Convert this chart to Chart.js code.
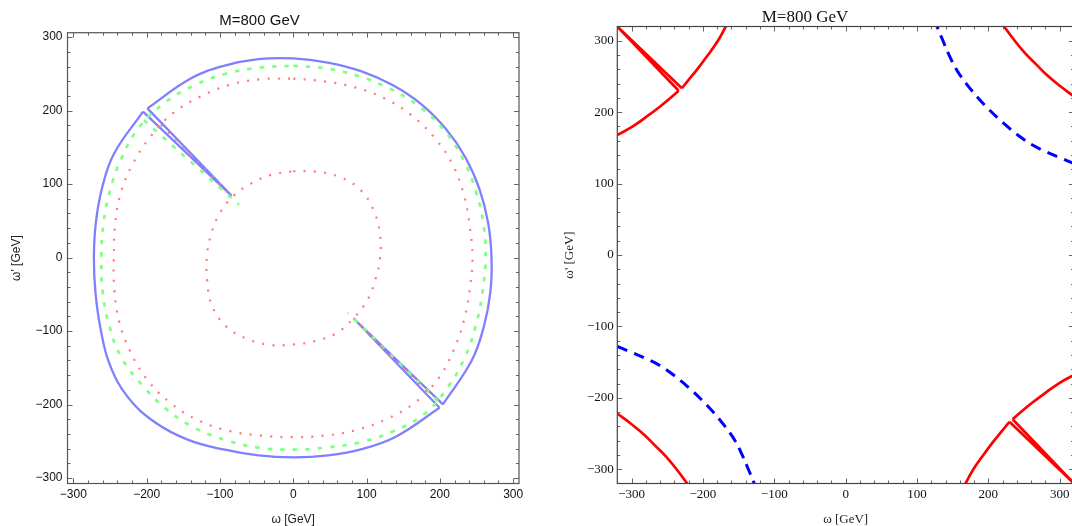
<!DOCTYPE html>
<html>
<head>
<meta charset="utf-8">
<script src="https://cdn.jsdelivr.net/npm/chart.js@4/dist/chart.umd.min.js"></script>
<style>
  html, body { margin: 0; padding: 0; background: #fff; overflow: hidden; }
  #left { position: absolute; left: 0; top: 0; }
  #right { position: absolute; left: 536px; top: 0; }
</style>
</head>
<body>
<canvas id="left" width="536" height="526"></canvas>
<canvas id="right" width="545" height="526"></canvas>
<script>
// ---- left panel: contours (omega, omega') ----
const blueArcUpper = [[-199,203],[-140.5,243.3],[-94.9,260.8],[-47.7,269.9],[0,271],[46.9,265.4],[92.3,253.7],[135.5,234.7],[174.9,208.4],[208.4,174.8],[235.1,135.8],[254.3,92.5],[265.9,47],[270.5,0],[268.9,-47.5],[259.9,-94.6],[243.3,-140.5],[204.2,-199.9]];
const blueArcLower = [[199.6,-204.4],[140.5,-243.4],[94.7,-260.3],[47.5,-269.3],[0,-272],[-47.5,-269.3],[-95.1,-261.2],[-143.3,-248.1],[-188.3,-224.5],[-226,-189.6],[-250.7,-144.8],[-263.1,-95.8],[-269.8,-47.6],[-272,0],[-269.3,47.5],[-260.8,94.9],[-244.6,141.3],[-205,198.5]];
const blueSlitTL = [[-205,198.5],[-84,84],[-199,203]];
const blueSlitBR = [[204.2,-199.9],[82.8,-83.3],[199.6,-204.4]];

const greenRing = [[0,261],[45.4,257.3],[89.8,246.7],[132.5,229.5],[172.3,205.3],[206.1,172.9],[231.7,133.8],[249.1,90.6],[259.5,45.8],[262.5,0],[258.5,-45.6],[249.5,-90.8],[234.3,-135.3],[210.7,-176.8],[178.7,-213],[136.5,-236.4],[91.5,-251.4],[45.6,-258.5],[0,-261.3],[-45.7,-259],[-90.6,-248.8],[-134,-232.1],[-173.1,-206.3],[-206.4,-173.2],[-234.7,-135.5],[-251.4,-91.5],[-260,-45.8],[-261.8,0],[-259,45.7],[-250,91],[-234.3,135.3],[-210.7,176.8],[-176.2,209.9],[-135.3,234.3],[-91.1,250.4],[-45.7,258.5],[0,261]];
const greenSlitTL = [[-203.6,186.8],[-74,72]];
const greenSlitBR = [[197.3,-195.2],[74.6,-75.2]];

const redOuter = [[0,243.5],[42.3,239.8],[84.3,231.6],[125,216.5],[162,193],[193.4,162.3],[217.8,125.8],[233,84.8],[240.8,42.5],[244.5,0],[240.8,-42.5],[233,-84.8],[218.7,-126.3],[197.3,-165.5],[165.8,-197.6],[127,-220],[85.5,-234.9],[42.7,-242.3],[0,-244.5],[-42.7,-242.3],[-86,-236.3],[-128.3,-222.1],[-166.7,-198.6],[-198.8,-166.8],[-222.1,-128.3],[-237.7,-86.5],[-244.2,-43.1],[-244.8,0],[-243.2,42.9],[-235.9,85.8],[-219.4,126.7],[-195.3,163.9],[-164.6,196.1],[-126.5,219.1],[-85.7,235.4],[-42.8,242.8],[0,243.5]];
const redInner = [[0,117.5],[31.3,116.9],[63.3,109.6],[91.9,91.9],[110,63.5],[118.3,31.7],[118.5,0],[112,-30],[100.9,-58.3],[82.4,-82.4],[59.3,-102.6],[30.4,-113.5],[0,-118.3],[-31.8,-118.8],[-63.8,-110.4],[-92.6,-92.6],[-111.3,-64.3],[-117.4,-31.4],[-118,0],[-112.5,30.2],[-101.3,58.5],[-82.7,82.7],[-58,100.5],[-30.2,112.5],[0,117.5]];
const redSlitTL = [[-180.7,180.7],[-82.7,82.7]];
const redSlitBR = [[182.4,-182.4],[82.4,-82.4]];

// ---- right panel ----
const redTLlow = [[-320,168],[-300,179],[-280,193],[-260,208],[-246,219.5],[-234,230]];
const redTLhigh = [[-229.5,233.5],[-219.5,246],[-208,260],[-193,280],[-179,300],[-168,320]];
const redTLslit = [[-234,230],[-320,320],[-229.5,233.5]];
const redBRhigh = [[320,-168],[300,-179],[280,-193],[260,-208],[246,-219.5],[234,-230]];
const redBRlow = [[229.5,-233.5],[219.5,-246],[208,-260],[193,-280],[179,-300],[168,-320]];
const redBRslit = [[234,-230],[320,-320],[229.5,-233.5]];
const redTR = [[222,320],[237,300],[252,282],[267,267],[282,252],[300,237],[320,222]];
const redBL = [[-320,-222],[-300,-237],[-282,-252],[-267,-267],[-252,-282],[-237,-300],[-222,-320]];
const blueBL = [[-320,-128],[-300,-136.4],[-280,-145],[-260,-155],[-240,-169],[-220,-185.6],[-202.3,-202.3],[-185.6,-220],[-169,-240],[-155,-260],[-145,-280],[-136.4,-300],[-128,-320]];
const blueTR = [[320,128],[300,136.4],[280,145],[260,155],[240,169],[220,185.6],[202.3,202.3],[185.6,220],[169,240],[155,260],[145,280],[136.4,300],[128,320]];

const majorTicks = [-300, -200, -100, 0, 100, 200, 300];

const pts = a => a.map(p => ({ x: p[0], y: p[1] }));
const fmt = v => (v < 0 ? '\u2212' + Math.abs(v) : String(v));

function line(data, color, width, dash, tension) {
  return {
    data: pts(data), showLine: true, borderColor: color, borderWidth: width,
    borderDash: dash || [], pointRadius: 0, tension: tension, fill: false,
    borderCapStyle: 'butt', borderJoinStyle: 'miter', clip: 0
  };
}

// inward ticks on all four sides, Mathematica style
const frameTicks = {
  id: 'frameTicks',
  afterDraw(chart, args, opts) {
    const { ctx, chartArea: a, scales } = chart;
    ctx.save();
    ctx.strokeStyle = opts.tickColor;
    ctx.lineWidth = 1;
    ctx.beginPath();
    for (let v = -300; v <= 300; v += 20) {
      const len = v % 100 === 0 ? opts.major : opts.minor;
      const px = Math.round(scales.x.getPixelForValue(v)) + 0.5;
      if (px > a.left && px < a.right) {
        ctx.moveTo(px, a.bottom); ctx.lineTo(px, a.bottom - len);
        ctx.moveTo(px, a.top); ctx.lineTo(px, a.top + len);
      }
      const py = Math.round(scales.y.getPixelForValue(v)) + 0.5;
      if (py > a.top && py < a.bottom) {
        ctx.moveTo(a.left, py); ctx.lineTo(a.left + len, py);
        ctx.moveTo(a.right, py); ctx.lineTo(a.right - len, py);
      }
    }
    ctx.stroke();
    ctx.strokeStyle = opts.frameColor;
    ctx.lineWidth = opts.frameWidth;
    ctx.strokeRect(a.left, a.top, a.right - a.left, a.bottom - a.top);
    ctx.restore();
  }
};

function makeOptions(cfg) {
  const tickFont = { family: cfg.family, size: cfg.tickSize };
  const keepMajor = s => { s.ticks = majorTicks.map(v => ({ value: v })); };
  return {
    responsive: false, animation: false, devicePixelRatio: 1,
    layout: { padding: { left: 0, right: cfg.padRight, top: 0, bottom: 0 } },
    scales: {
      x: {
        type: 'linear', min: cfg.xmin, max: cfg.xmax,
        afterBuildTicks: keepMajor,
        afterFit: s => { s.height = cfg.xHeight; },
        grid: { display: false, drawTicks: false }, border: { display: false },
        ticks: { color: '#111', font: tickFont, padding: cfg.xPad, maxRotation: 0, autoSkip: false, callback: fmt },
        title: { display: true, text: '\u03c9 [GeV]', color: '#222', font: { family: cfg.family, size: cfg.axisSize, lineHeight: 1 }, padding: { top: 0, bottom: cfg.xTitlePad } }
      },
      y: {
        type: 'linear', min: cfg.ymin, max: cfg.ymax,
        afterBuildTicks: keepMajor,
        afterFit: s => { s.width = cfg.yWidth; },
        grid: { display: false, drawTicks: false }, border: { display: false },
        ticks: { color: '#111', font: tickFont, padding: cfg.yPad, autoSkip: false, callback: fmt },
        title: { display: true, text: "\u03c9' [GeV]", color: '#222', font: { family: cfg.family, size: cfg.axisSize, lineHeight: 1 }, padding: { top: cfg.yTitlePad, bottom: 0 } }
      }
    },
    plugins: {
      legend: { display: false },
      tooltip: { enabled: false },
      title: {
        display: true, text: 'M=800 GeV', color: '#111',
        font: { family: cfg.family, size: cfg.titleSize, weight: 'normal', lineHeight: cfg.titleLH },
        padding: cfg.titlePad
      },
      frameTicks: { tickColor: '#666', frameColor: cfg.frameColor, frameWidth: 1.2, major: 5, minor: 3 }
    }
  };
}

const blueL = 'rgb(128,128,255)', greenL = 'rgb(128,255,128)', redL = 'rgb(255,120,120)';
const dotted = [2, 8.3], dashed = [4.5, 8];

new Chart(document.getElementById('left'), {
  type: 'scatter',
  data: {
    datasets: [
      line(redOuter, redL, 2.2, dotted, 0.4),
      line(redInner, redL, 2.2, dotted, 0.4),
      line(redSlitTL, redL, 2.2, dotted, 0),
      line(redSlitBR, redL, 2.2, dotted, 0),
      line(greenRing, greenL, 2.7, dashed, 0.4),
      line(greenSlitTL, greenL, 2.7, dashed, 0),
      line(greenSlitBR, greenL, 2.7, dashed, 0),
      line(blueArcUpper, blueL, 2.3, [], 0.4),
      line(blueArcLower, blueL, 2.3, [], 0.4),
      line(blueSlitTL, blueL, 2.3, [], 0),
      line(blueSlitBR, blueL, 2.3, [], 0)
    ]
  },
  options: makeOptions({
    family: "'Liberation Sans', Arial, sans-serif", tickSize: 12, axisSize: 12, titleSize: 15,
    titleLH: 1.2, titlePad: { top: 11.7, bottom: 3 },
    xmin: -308, xmax: 308, ymin: -307.5, ymax: 306,
    padRight: 17, xHeight: 42.5, yWidth: 67.5, xPad: 4, yPad: 5,
    xTitlePad: 0.7, yTitlePad: 11, frameColor: '#555'
  }),
  plugins: [frameTicks]
});

new Chart(document.getElementById('right'), {
  type: 'scatter',
  data: {
    datasets: [
      line(blueBL, 'rgb(0,0,255)', 3, [11, 7], 0.4),
      line(blueTR, 'rgb(0,0,255)', 3, [11, 7], 0.4),
      line(redTLlow, 'rgb(255,0,0)', 2.7, [], 0.4),
      line(redTLhigh, 'rgb(255,0,0)', 2.7, [], 0.4),
      line(redTLslit, 'rgb(255,0,0)', 2.7, [], 0),
      line(redBRhigh, 'rgb(255,0,0)', 2.7, [], 0.4),
      line(redBRlow, 'rgb(255,0,0)', 2.7, [], 0.4),
      line(redBRslit, 'rgb(255,0,0)', 2.7, [], 0),
      line(redTR, 'rgb(255,0,0)', 2.7, [], 0.4),
      line(redBL, 'rgb(255,0,0)', 2.7, [], 0.4)
    ]
  },
  options: makeOptions({
    family: "'Liberation Serif', 'Times New Roman', serif", tickSize: 13, axisSize: 13, titleSize: 17,
    titleLH: 1, titlePad: { top: 8.8, bottom: 0.7 },
    xmin: -320, xmax: 320, ymin: -320, ymax: 320,
    padRight: 7, xHeight: 42.5, yWidth: 81.3, xPad: 3, yPad: 3.5,
    xTitlePad: 0, yTitlePad: 27.5, frameColor: '#444'
  }),
  plugins: [frameTicks]
});
</script>
</body>
</html>
